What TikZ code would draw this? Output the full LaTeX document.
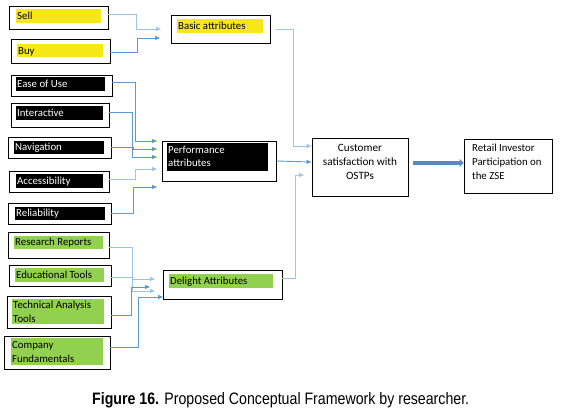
\documentclass[tikz,border=0pt]{standalone}
\usepackage{fontspec}
\setmainfont{Carlito}
\newfontfamily\capfont{Liberation Sans}
\usetikzlibrary{arrows.meta,fit}
\definecolor{yel}{RGB}{245,232,22}
\definecolor{grn}{RGB}{146,208,80}
\definecolor{cdark}{RGB}{91,155,213}
\definecolor{clight}{RGB}{157,195,230}
\definecolor{cthick}{RGB}{84,138,198}
\tikzset{
  box/.style={draw=black, line width=0.8pt, inner sep=0pt},
  txt/.style={font=\fontsize{10.8}{13.8}\selectfont, inner sep=0pt, anchor=base west},
  wtxt/.style={txt, text=white},
  con/.style={draw=cdark, line width=0.9pt, -{Triangle[length=5pt,width=4pt]}},
  conL/.style={con, draw=clight},
}
\begin{document}
\begin{tikzpicture}[x=1pt,y=-1pt]
\useasboundingbox (0,0) rectangle (561,411);
% ---- basic group
\fill[yel] (16,9) rectangle (101,23);
\node[box, fit={(9,6) (108,29)}] (sell) {};
\node[txt] (sellt) at (17,20) {Sell};
\fill[yel] (17,44) rectangle (103,57);
\node[box, fit={(11,39) (110,63)}] (buy) {};
\node[txt] (buyt) at (18,55) {Buy};
\fill[yel] (177,19) rectangle (263,33);
\node[box, fit={(171,15) (270,43)}] (basic) {};
\node[txt] (basict) at (178,30) {Basic attributes};
% ---- performance group
\fill[black] (16,77) rectangle (105,91);
\node[box, fit={(11,75) (112,96)}] (ease) {};
\node[wtxt] (easet) at (17,88) {Ease of Use};
\fill[black] (16,106) rectangle (103,120);
\node[box, fit={(11,103) (109,127)}] (inter) {};
\node[wtxt] (intert) at (17,117) {Interactive};
\fill[black] (14,141) rectangle (104,154);
\node[box, fit={(8,137) (111,158)}] (nav) {};
\node[wtxt] (navt) at (15,151) {Navigation};
\fill[black] (16,174) rectangle (103,188);
\node[box, fit={(9,171) (109,192)}] (acc) {};
\node[wtxt] (acct) at (17,185) {Accessibility};
\fill[black] (15,207) rectangle (105,220);
\node[box, fit={(8,203) (111,224)}] (rel) {};
\node[wtxt] (relt) at (16,217) {Reliability};
\fill[black] (167,143) rectangle (268,171);
\node[box, fit={(162,141) (276,181)}] (perf) {};
\node[wtxt, align=left] (perft) at (168,167) {Performance\\attributes};
% ---- delight group
\fill[grn] (14,236) rectangle (103,249);
\node[box, fit={(8,232) (109,258)}] (rr) {};
\node[txt] (rrt) at (15,246) {Research Reports};
\fill[grn] (15,268) rectangle (104,282);
\node[box, fit={(9,265) (111,286)}] (edu) {};
\node[txt] (edut) at (16,278) {Educational Tools};
\fill[grn] (12,299) rectangle (104,324);
\node[box, fit={(7,296) (111,328)}] (tech) {};
\node[txt, align=left] (techt) at (13,322) {Technical Analysis\\Tools};
\fill[grn] (11,338) rectangle (103,365);
\node[box, fit={(4,336) (110,369)}] (comp) {};
\node[txt, align=left] (compt) at (12,362) {Company\\Fundamentals};
\fill[grn] (169,274) rectangle (273,288);
\node[box, fit={(163,270) (282,299)}] (del) {};
\node[txt] (delt) at (170,284) {Delight Attributes};
% ---- outcome boxes
\node[box, fit={(312,138) (408,196)}] (cust) {};
\node[txt, anchor=base, align=center, font=\fontsize{11.2}{14}\selectfont] (custt) at (360,180) {Customer\\satisfaction with\\OSTPs};
\node[box, fit={(464,139) (552,193)}] (ret) {};
\node[txt, align=left, font=\fontsize{10.8}{14}\selectfont] (rett) at (472,180) {Retail Investor\\Participation on\\the ZSE};
% ---- connectors
\draw[conL] (sell.east |- 0,14) -- (136,14) -- (136,29) -- (161,29);
\draw[con]  (buy.east |- 0,52) -- (137,52) -- (137,38) -- (160,38);
\draw[con]  (ease.east |- 0,82) -- (135,82) -- (135,141) -- (157,141);
\draw[con]  (inter.east |- 0,112) -- (132,112) -- (132,157) -- (157,157);
\draw[con]  (nav.east |- 0,147) -- (133,147) -- (133,149) -- (157,149);
\draw[conL] (acc.east |- 0,179) -- (135,179) -- (135,169) -- (157,169);
\draw[con]  (rel.east |- 0,213) -- (133,213) -- (133,187) -- (157,187);
\draw[conL] (rr.east |- 0,247) -- (132,247) -- (132,291) -- (155,291);
\draw[conL] (edu.east |- 0,277) -- (132,277) -- (132,279) -- (155,279);
\draw[con]  (tech.east |- 0,315) -- (131,315) -- (131,287) -- (150,287);
\draw[con]  (comp.east |- 0,347) -- (138,347) -- (138,297) -- (163,297);
\draw[conL] (276,29) -- (293,29) -- (293,146) -- (cust.west |- 0,146);
\draw[con]  (perf.east |- 0,161) -- (cust.west |- 0,162);
\draw[conL] (del.east |- 0,278) -- (295,278) -- (295,175) -- (304,175);
\draw[draw=cthick, line width=3.5pt, -{Triangle[length=4pt,width=8pt]}] (413,163) -- (ret.west |- 0,163);
% ---- caption
\node[inner sep=0pt, anchor=base west] (cap) at (92,404)
  {\resizebox{377pt}{12pt}{\capfont\textbf{Figure 16.} Proposed Conceptual Framework by researcher.}};
\end{tikzpicture}
\end{document}
